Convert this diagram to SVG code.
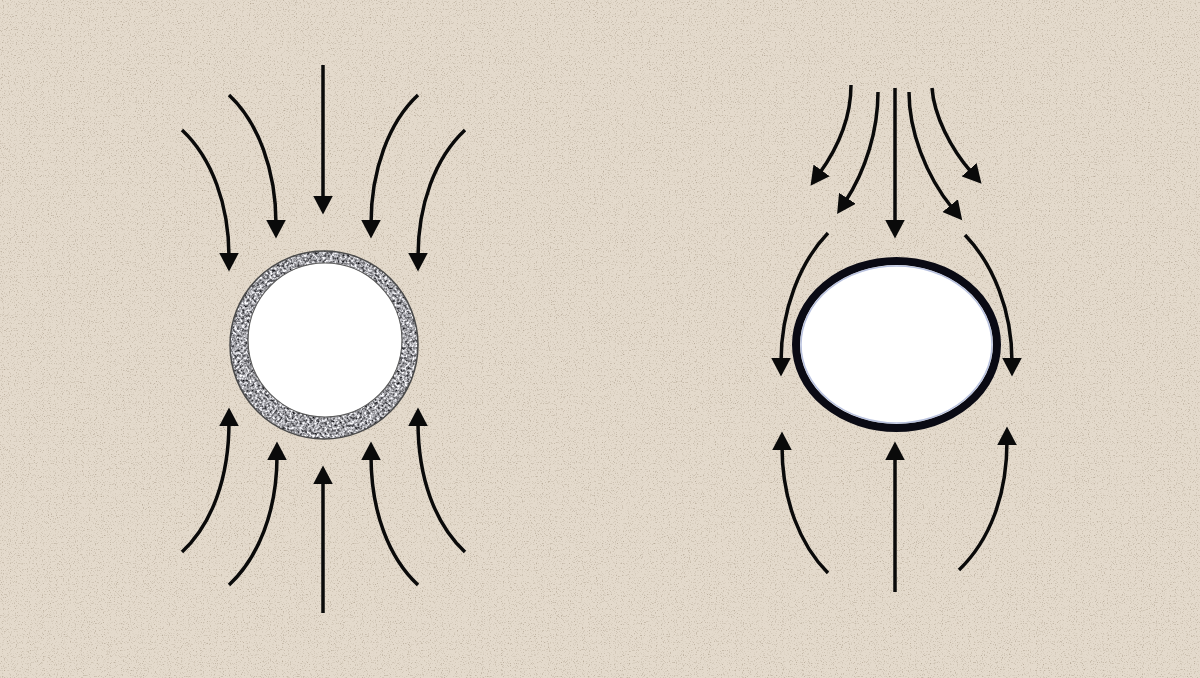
<svg xmlns="http://www.w3.org/2000/svg" width="1200" height="678" viewBox="0 0 1200 678">
  <style>
    .flow { fill: none; stroke: #0a0a0a; stroke-width: 3.5; stroke-linecap: butt; marker-end: url(#head); }
  </style>
  <defs>
    <marker id="head" markerUnits="userSpaceOnUse" markerWidth="20" markerHeight="20" viewBox="0 0 18 18" refX="4" refY="9" orient="auto">
      <path d="M0,0 L17,9 L0,18 z" fill="#0a0a0a"/>
    </marker>
    <filter id="paper" x="0" y="0" width="100%" height="100%" color-interpolation-filters="sRGB">
      <feTurbulence type="fractalNoise" baseFrequency="0.85" numOctaves="2" seed="3" result="n"/>
      <feColorMatrix in="n" type="matrix" values="0 0 0 0 0.72  0 0 0 0 0.67  0 0 0 0 0.6  0 0 0 -3 1.35" result="speck"/>
      <feComposite in="speck" in2="SourceGraphic" operator="in" result="s2"/>
      <feMerge><feMergeNode in="SourceGraphic"/><feMergeNode in="s2"/></feMerge>
    </filter>
    <filter id="granite" x="0" y="0" width="100%" height="100%" color-interpolation-filters="sRGB">
      <feTurbulence type="fractalNoise" baseFrequency="0.4" numOctaves="3" seed="7" result="n"/>
      <feColorMatrix in="n" type="matrix" values="1.6 0 0 0 -0.17  1.6 0 0 0 -0.17  1.6 0 0 0 -0.15  0 0 0 0 1" result="g"/>
      <feComposite in="g" in2="SourceGraphic" operator="in"/>
    </filter>
  </defs>

  <rect id="background" x="0" y="0" width="1200" height="678" fill="#e4dacc" filter="url(#paper)"/>

  <g id="insulated-pipe">
    <circle cx="324" cy="345" r="94" fill="#a0a0a0" filter="url(#granite)"/>
    <circle cx="324" cy="345" r="94" fill="none" stroke="#4a4a4a" stroke-width="1.5"/>
    <circle cx="325" cy="340" r="77" fill="#ffffff" stroke="#5a5a5a" stroke-width="1.2"/>
  </g>

  <g id="bare-pipe">
    <ellipse cx="896.5" cy="344.5" rx="100.5" ry="83.5" fill="#ffffff" stroke="#0a0a14" stroke-width="8"/>
    <ellipse cx="896.5" cy="344.5" rx="95.5" ry="78.5" fill="none" stroke="#9aa6d0" stroke-width="1.5" opacity="0.7"/>
  </g>

  <g id="connectors">
    <!-- left diagram, top -->
    <path class="flow" d="M182,130 C212,158 229,205 229,257"/>
    <path class="flow" d="M229,95 C258,122 276,170 276,224"/>
    <path class="flow" d="M323,65 L323,200"/>
    <path class="flow" d="M418,95 C389,122 371,170 371,224"/>
    <path class="flow" d="M465,130 C435,158 418,205 418,257"/>
    <!-- left diagram, bottom -->
    <path class="flow" d="M182,552 C212,524 229,478 229,422"/>
    <path class="flow" d="M229,585 C258,558 277,512 277,456"/>
    <path class="flow" d="M323,613 L323,480"/>
    <path class="flow" d="M418,585 C389,558 371,512 371,456"/>
    <path class="flow" d="M465,552 C435,524 418,478 418,422"/>
    <!-- right diagram, top -->
    <path class="flow" d="M851,85 C851,115 840,145 819,174"/>
    <path class="flow" d="M878,92 C878,130 866,170 845,202"/>
    <path class="flow" d="M895,88 L895,224"/>
    <path class="flow" d="M909,92 C909,130 925,175 953,209"/>
    <path class="flow" d="M932,88 C934,115 950,148 972,173"/>
    <!-- right diagram, sides -->
    <path class="flow" d="M828,233 C800,262 781,310 781,362"/>
    <path class="flow" d="M965,235 C993,264 1012,310 1012,362"/>
    <!-- right diagram, bottom -->
    <path class="flow" d="M828,573 C800,545 782,500 782,446"/>
    <path class="flow" d="M895,592 L895,456"/>
    <path class="flow" d="M959,570 C990,540 1007,495 1007,441"/>
  </g>
</svg>
